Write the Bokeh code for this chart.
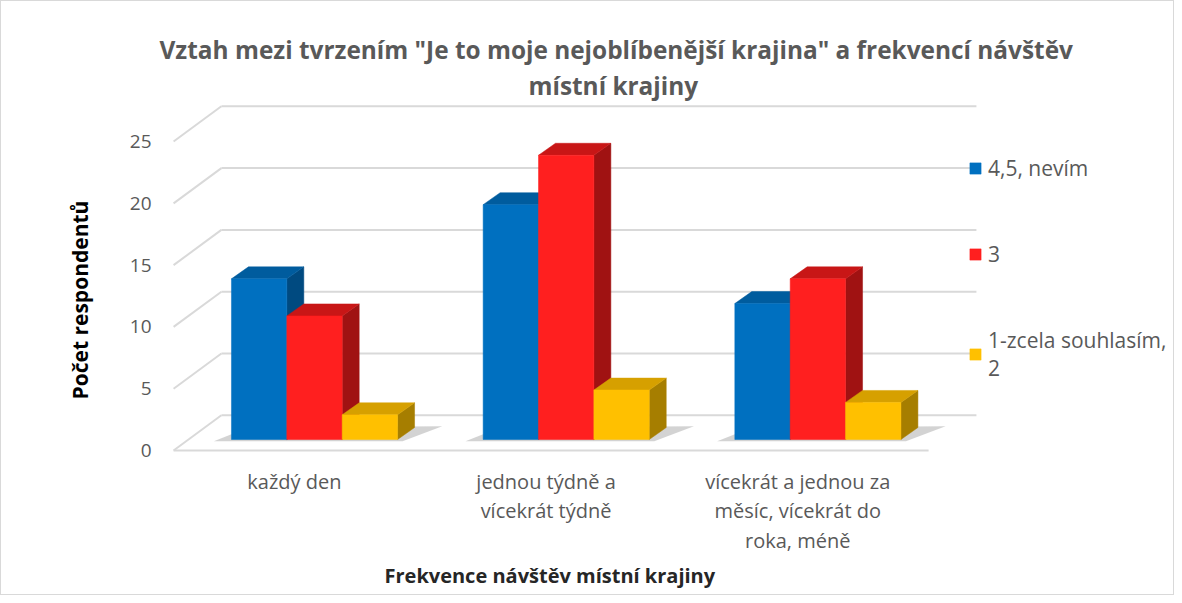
from bokeh.plotting import figure
from bokeh.models import Range1d, FixedTicker, Legend, LegendItem, Title
from bokeh.embed import file_html
from bokeh.resources import INLINE

# ---------------- data ----------------
categories = ["každý den",
              "jednou týdně a\nvícekrát týdně",
              "vícekrát a jednou za\nměsíc, vícekrát do\nroka, méně"]
series = ["4,5, nevím", "3", "1-zcela souhlasím,\n2"]
blue_vals = [13, 19, 11]
red_vals = [10, 23, 13]
yellow_vals = [2, 4, 3]
y_ticks = [0, 5, 10, 15, 20, 25]

title_line1 = 'Vztah mezi tvrzením "Je to moje nejoblíbenější krajina" a frekvencí návštěv'
title_line2 = "místní krajiny"
x_title = "Frekvence návštěv místní krajiny"
y_title = "Počet respondentů"

# ---------------- style ----------------
front_colors = ["#0070C0", "#FF1F1F", "#FFC000"]
top_colors = ["#005C9E", "#C81616", "#D6A000"]
side_colors = ["#004A80", "#A01212", "#A67E00"]
FONT = "Open Sans"
GRAY = "#595959"

DX, DY = 0.19, 2.85      # depth offset of the floor / back wall
BX0, BY0 = 0.06, 0.89    # bar front plane offset
BDX, BDY = 0.0675, 0.97  # bar depth
BW = 0.22                # bar width
n_cat = len(categories)

p = figure(width=1174, height=595, output_backend="svg", toolbar_location=None,
           x_range=Range1d(-0.048, 3.981), y_range=Range1d(-0.89, 28.24),
           min_border_left=160, min_border_right=0, min_border_top=100,
           min_border_bottom=135)
p.xgrid.visible = False
p.ygrid.visible = False
p.outline_line_color = None
p.background_fill_color = "white"
p.border_fill_color = "white"
p.styles = {"border": "1px solid #d9d9d9"}

# ---------------- walls / gridlines ----------------
gx, gy = [], []
for v in y_ticks:
    gx.append([0, DX]); gy.append([v, v + DY])
    gx.append([DX, n_cat + DX]); gy.append([v + DY, v + DY])
gx.append([0, n_cat]); gy.append([0, 0])
p.multi_line(gx, gy, line_color="#D9D9D9", line_width=2)

# ---------------- shadows ----------------
sx, sy = [], []
for i in range(n_cat):
    c = i + 0.5 + BX0
    l = c - 1.5 * BW
    r = c + 1.5 * BW
    sx.append([l - 0.07, r + 0.02, r + BDX + 0.11, l + BDX])
    sy.append([BY0 - 0.15, BY0 - 0.15, BY0 + BDY + 0.1, BY0 + BDY])
p.patches(sx, sy, fill_color="#808080", fill_alpha=0.35, line_color=None)

# ---------------- 3D bars ----------------
fronts = []
for j, vals in enumerate([blue_vals, red_vals, yellow_vals]):
    lefts, rights, tops, bottoms = [], [], [], []
    tx, ty, sxs, sys_ = [], [], [], []
    for i, v in enumerate(vals):
        c = i + 0.5 + BX0 + (j - 1) * BW
        l, r = c - BW / 2, c + BW / 2
        b, t = BY0, BY0 + v
        lefts.append(l); rights.append(r); bottoms.append(b); tops.append(t)
        tx.append([l, r, r + BDX, l + BDX]); ty.append([t, t, t + BDY, t + BDY])
        sxs.append([r, r + BDX, r + BDX, r]); sys_.append([b, b + BDY, t + BDY, t])
    p.patches(sxs, sys_, fill_color=side_colors[j], line_color=side_colors[j], line_width=0.5)
    p.patches(tx, ty, fill_color=top_colors[j], line_color=top_colors[j], line_width=0.5)
    fr = p.quad(left=lefts, right=rights, bottom=bottoms, top=tops,
                fill_color=front_colors[j], line_color=front_colors[j], line_width=0.5)
    fronts.append(fr)

# ---------------- axes ----------------
p.yaxis.ticker = FixedTicker(ticks=y_ticks)
p.yaxis.axis_line_color = None
p.yaxis.major_tick_line_color = None
p.yaxis.major_tick_out = 0
p.yaxis.minor_tick_line_color = None
p.yaxis.minor_tick_out = 0
p.yaxis.major_label_standoff = 10
p.yaxis.major_label_text_font = FONT
p.yaxis.major_label_text_font_size = "19px"
p.yaxis.major_label_text_color = GRAY

tick_pos = [i + 0.48 for i in range(n_cat)]
p.xaxis.ticker = FixedTicker(ticks=tick_pos)
p.xaxis.major_label_overrides = {tp: lab for tp, lab in zip(tick_pos, categories)}
p.xaxis.axis_line_color = None
p.xaxis.major_tick_line_color = None
p.xaxis.major_tick_out = 0
p.xaxis.minor_tick_line_color = None
p.xaxis.minor_tick_out = 0
p.xaxis.major_label_standoff = 6
p.xaxis.major_label_text_font = FONT
p.xaxis.major_label_text_font_size = "20px"
p.xaxis.major_label_text_color = GRAY
p.xaxis.major_label_text_line_height = 1.11

# ---------------- titles ----------------
p.title.text = title_line1
p.title.align = "left"
p.title.offset = -2
p.title.text_font = FONT
p.title.text_font_size = "24.4px"
p.title.text_font_style = "bold"
p.title.text_color = GRAY
p.title.standoff = 2
p.add_layout(Title(text=title_line2, align="left", offset=367, text_font=FONT,
                   text_font_size="24.4px", text_font_style="bold",
                   text_color=GRAY, standoff=0), "above")
p.add_layout(Title(text=x_title, align="left", offset=223, text_font=FONT,
                   text_font_size="20px", text_font_style="bold",
                   text_color="#262626", standoff=4), "below")
p.add_layout(Title(text=y_title, align="left", offset=62, text_font=FONT,
                   text_font_size="21px", text_font_style="bold",
                   text_color="#000000", standoff=66), "left")

# ---------------- legend ----------------
legend = Legend(items=[LegendItem(label=series[j], renderers=[fronts[j]]) for j in range(3)],
                location=(807, 79), orientation="vertical", spacing=58,
                glyph_width=14, glyph_height=14, label_standoff=6,
                label_text_font=FONT, label_text_font_size="21px",
                label_text_line_height=1.68,
                label_text_color=GRAY, border_line_color=None,
                background_fill_alpha=0, padding=0, margin=0)
p.add_layout(legend)

open("out.html", "w").write(file_html(p, INLINE))
